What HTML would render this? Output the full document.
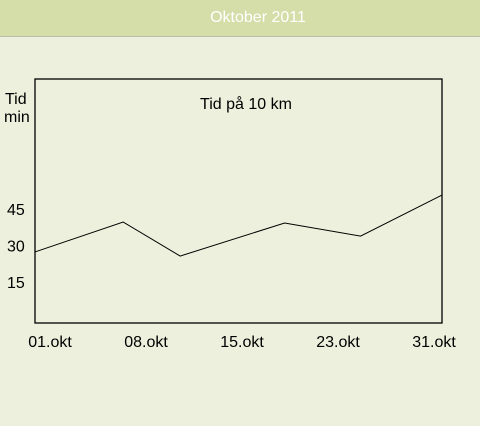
<!DOCTYPE html>
<html><head><meta charset="utf-8"><style>
html,body{margin:0;padding:0;width:480px;height:426px;background:#ecf0dc;overflow:hidden;font-family:"Liberation Sans","DejaVu Sans",sans-serif;}
#hdr{position:absolute;left:0;top:0;width:480px;height:36px;background:#d5dda8;border-bottom:1px solid #b9bea4;color:#fff;font-size:16px;text-align:center;line-height:36px;}
</style></head><body>
<div id="hdr"><span style="position:relative;left:18px">Oktober 2011</span></div>
<svg id="chart" width="480" height="426" style="position:absolute;left:0;top:0" font-family="Liberation Sans, DejaVu Sans, sans-serif"></svg>
<script>
const days=[1,7.5,11.7,19.4,25,31];
const times=[27.4,39.7,25.7,39.3,33.9,50.8];
const yTicks=[15,30,45];
const xTickLabels=["01.okt","08.okt","15.okt","23.okt","31.okt"];
const NS="http://www.w3.org/2000/svg";
const svg=document.getElementById('chart');
const L=35,R=442,T=79,B=323;
function xs(d){return L+(d-1)/30*(R-L);}
function ys(v){return 318.5-v*2.43;}
function mk(t,a){const e=document.createElementNS(NS,t);for(const k in a)e.setAttribute(k,a[k]);svg.appendChild(e);return e;}
const box=mk('rect',{x:L,y:T,width:R-L,height:B-T,fill:'none',stroke:'#000','stroke-width':1.3});


const ttl=mk('text',{x:246,y:109,'text-anchor':'middle','font-size':16,fill:'#000'});ttl.textContent='Tid på 10 km';


const yt=mk('text',{x:4,y:104,'font-size':16,fill:'#000'});yt.innerHTML='<tspan x="5">Tid</tspan><tspan x="4" dy="18">min</tspan>';


yTicks.forEach(v=>{const t=mk('text',{x:7,y:ys(v)+6,'font-size':16,fill:'#000'});t.textContent=v;

});
xTickLabels.forEach((s,i)=>{const t=mk('text',{x:50+i*96,y:347,'text-anchor':'middle','font-size':16,fill:'#000'});t.textContent=s;

});
const pts=days.map((d,i)=>xs(d)+','+ys(times[i])).join(' ');
const line=mk('polyline',{points:pts,fill:'none',stroke:'#000','stroke-width':1});


</script>
</body></html>
